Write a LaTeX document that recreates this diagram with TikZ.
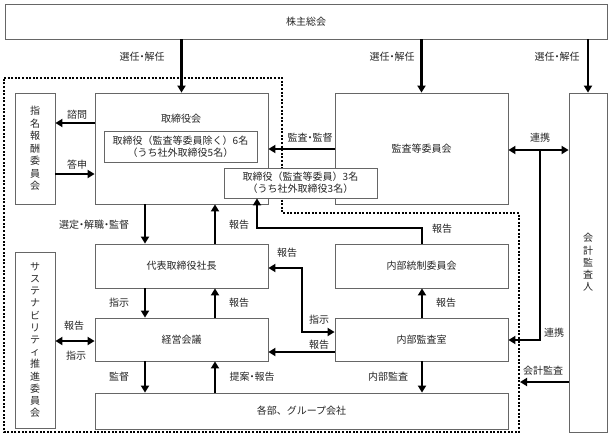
\documentclass[tikz,border=0pt]{standalone}
\usepackage{fontspec}
\setmainfont{Noto Sans CJK JP}
\usetikzlibrary{arrows.meta,calc}
\newcommand\ndot{\kern-2.5pt・\kern-2.5pt}
\begin{document}
\begin{tikzpicture}[x=1pt,y=-1pt,
  box/.style={draw=black!60, line width=0.8pt, fill=white, inner sep=0pt, text=black!85, font=\fontsize{10}{12}\selectfont, align=center},
  lbl/.style={inner sep=0pt, text=black!85, font=\fontsize{10}{12}\selectfont},
  arr/.style={line width=2.2pt, -{Triangle[length=7pt,width=8pt]}},
  arrb/.style={line width=2.2pt, {Triangle[length=7pt,width=8pt]}-{Triangle[length=7pt,width=8pt]}},
  bound/.style={line width=2.2pt, dash pattern=on 2pt off 1.6pt}
]
\useasboundingbox (0,0) rectangle (613,437);
\fill[white] (0,0) rectangle (613,437);

% company boundary
\draw[bound] (4,78) -- (282,78) -- (282,213) -- (519,213) -- (519,432) -- (4,432) -- cycle;

% boxes
\node[box, minimum width=602pt, minimum height=35pt] (sh) at (306,21.5) {株主総会};
\node[box, minimum width=40pt, minimum height=111pt, font=\fontsize{10}{12.5}\selectfont] (nom) at (35,148.5) {指\\名\\報\\酬\\委\\員\\会};
\node[box, minimum width=173pt, minimum height=111pt] (ac) at (421.5,148.5) {監査等委員会};
\node[box, minimum width=173pt, minimum height=111pt] (board) at (181.5,148.5) {};
\node[lbl] (bt) at (181,119) {取締役会};
\node[box, minimum width=153pt, minimum height=31pt] (in1) at (180.5,146.5) {取締役（監査等委員除く）6名\\（うち社外取締役5名）};
\node[box, minimum width=153pt, minimum height=30pt] (in2) at (300.5,183) {取締役（監査等委員）3名\\（うち社外取締役3名）};
\node[box, minimum width=38pt, minimum height=339pt, font=\fontsize{10}{12.2}\selectfont] (aud) at (588,262.5) {会\\計\\監\\査\\人};
\node[box, minimum width=173pt, minimum height=44pt] (ceo) at (181.5,266) {代表取締役社長};
\node[box, minimum width=173pt, minimum height=44pt] (ic) at (421.5,266) {内部統制委員会};
\node[box, minimum width=173pt, minimum height=43pt] (mt) at (181.5,339.5) {経営会議};
\node[box, minimum width=173pt, minimum height=43pt] (ia) at (421.5,339.5) {内部監査室};
\node[box, minimum width=40pt, minimum height=176pt, font=\fontsize{10}{12.2}\selectfont] (sus) at (35,340) {サ\\ス\\テ\\ナ\\ビ\\リ\\テ\\ィ\\推\\進\\委\\員\\会};
\node[box, minimum width=413pt, minimum height=36pt] (dept) at (301.5,411) {各部、グループ会社};

% helper coordinates
\coordinate (xL) at (145,0);
\coordinate (xR) at (215,0);
\coordinate (xI) at (422,0);
\coordinate (xC) at (540,0);
\coordinate (xJ) at (257,0);
\coordinate (xK) at (302,0);
\coordinate (yA) at (0,123);
\coordinate (yB) at (0,174);
\coordinate (yC) at (0,149);
\coordinate (yD) at (0,150);
\coordinate (yE) at (0,340);
\coordinate (yF) at (0,382);
\coordinate (yG) at (0,228);
\coordinate (yH) at (0,268);
\coordinate (yI) at (0,332);
\coordinate (yJ) at (0,341);
\coordinate (yK) at (0,352);
\coordinate (fc) at (520,382);

% connectors
\draw[arr] (sh.south -| board.north) -- (board.north);
\draw[arr] (sh.south -| ac.north) -- (ac.north);
\draw[arr] (sh.south -| aud.north) -- (aud.north);
\draw[arr] (board.west |- yA) -- (nom.east |- yA);
\draw[arr] (nom.east |- yB) -- (board.west |- yB);
\draw[arr] (ac.west |- yC) -- (board.east |- yC);
\draw[arrb] (ac.east |- yD) -- (aud.west |- yD);
\draw[arr] (xC |- yD) -- (xC |- yE) -- (ia.east |- yE);
\draw[arr] (aud.west |- yF) -- (fc);
\draw[arr] (board.south -| xL) -- (ceo.north -| xL);
\draw[arr] (ceo.north -| xR) -- (board.south -| xR);
\draw[arr] (ic.north -| xI) -- (xI |- yG) -- (xJ |- yG) -- (in2.south -| xJ);
\draw[arrb] (ceo.east |- yH) -- (xK |- yH) -- (xK |- yI) -- (ia.west |- yI);
\draw[arr] (ceo.south -| xL) -- (mt.north -| xL);
\draw[arr] (mt.north -| xR) -- (ceo.south -| xR);
\draw[arrb] (sus.east |- yJ) -- (mt.west |- yJ);
\draw[arr] (ia.north -| xI) -- (ic.south -| xI);
\draw[arr] (ia.west |- yK) -- (mt.east |- yK);
\draw[arr] (mt.south -| xL) -- (dept.north -| xL);
\draw[arr] (dept.north -| xR) -- (mt.south -| xR);
\draw[arr] (ia.south -| xI) -- (dept.north -| xI);

% labels
\node[lbl] (l1) at (142,57) {選任\ndot 解任};
\node[lbl] (l2) at (392,57) {選任\ndot 解任};
\node[lbl] (l3) at (557,57) {選任\ndot 解任};
\node[lbl] (l4) at (77,115) {諮問};
\node[lbl] (l5) at (77,165) {答申};
\node[lbl] (l6) at (310,138) {監査\ndot 監督};
\node[lbl] (l7) at (540,138) {連携};
\node[lbl] (l8) at (94,225) {選定\ndot 解職\ndot 監督};
\node[lbl] (l9) at (239,225) {報告};
\node[lbl] (l10) at (287,253) {報告};
\node[lbl] (l11) at (442,229) {報告};
\node[lbl] (l12) at (119,303) {指示};
\node[lbl] (l13) at (239,303) {報告};
\node[lbl] (l14) at (446,303) {報告};
\node[lbl] (l15) at (319,320) {指示};
\node[lbl] (l16) at (319,345) {報告};
\node[lbl] (l17) at (554,333) {連携};
\node[lbl] (l18) at (74,326) {報告};
\node[lbl] (l19) at (76,356) {指示};
\node[lbl] (l20) at (119,377) {監督};
\node[lbl] (l21) at (252,377) {提案\ndot 報告};
\node[lbl] (l22) at (388,377) {内部監査};
\node[lbl] (l23) at (543,371) {会計監査};
\end{tikzpicture}
\end{document}
